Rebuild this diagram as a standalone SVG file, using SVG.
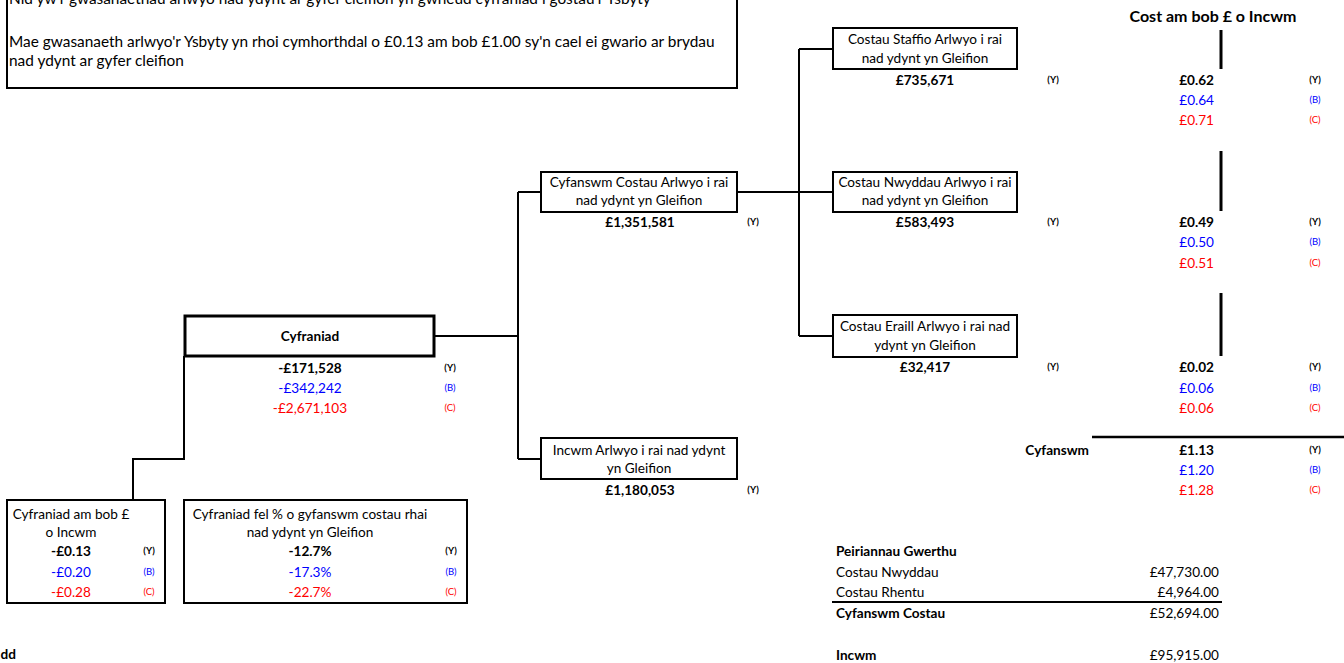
<svg xmlns="http://www.w3.org/2000/svg" width="1344" height="663" viewBox="0 0 1344 663">
<style>
text{font-family:Lato,"Liberation Sans",sans-serif;font-size:13.6px;fill:#000}
.b{font-weight:bold}
.m{text-anchor:middle}
.e{text-anchor:end}
.bl{fill:#0000ff}
.rd{fill:#ff0000}
.s{font-size:9.5px}
.n{font-size:15.4px}
.h{font-size:16px}
.box{fill:#fff;stroke:#000;stroke-width:2}
.con{fill:none;stroke:#000;stroke-width:2}
.bar{stroke:#000;stroke-width:3}
</style>
<rect width="1344" height="663" fill="#fff"/>

<g id="connectors">
<path class="con" d="M434,336 H518 M518,192 V459 M518,192 H541 M518,459 H541"/>
<path class="con" d="M737,192 H833 M799,49 V336 M799,49 H833 M799,336 H833"/>
<path class="con" d="M184,356 V459 H133 V500"/>
</g>

<g id="note">
<rect class="box" x="7" y="-10" width="730" height="98"/>
<text class="n" x="9" y="4">Nid yw'r gwasanaethau arlwyo nad ydynt ar gyfer cleifion yn gwneud cyfraniad i gostau'r Ysbyty</text>
<text class="n" x="9" y="47">Mae gwasanaeth arlwyo'r Ysbyty yn rhoi cymhorthdal o £0.13 am bob £1.00 sy'n cael ei gwario ar brydau</text>
<text class="n" x="9" y="66">nad ydynt ar gyfer cleifion</text>
</g>

<g id="cost-header">
<text class="b m h" x="1213" y="22">Cost am bob £ o Incwm</text>
<line class="bar" x1="1221" y1="30" x2="1221" y2="69"/>
<line class="bar" x1="1221" y1="151" x2="1221" y2="211"/>
<line class="bar" x1="1221" y1="293" x2="1221" y2="356"/>
</g>

<g id="cyfraniad">
<rect class="box" x="185" y="316" width="249" height="40" style="stroke-width:3"/>
<text class="b m" x="310" y="341">Cyfraniad</text>
<text class="b m" x="310" y="373">-£171,528</text>
<text class="m bl" x="310" y="393">-£342,242</text>
<text class="m rd" x="310" y="413">-£2,671,103</text>
<text class="s b m" x="450" y="371">(Y)</text>
<text class="s m bl" x="450" y="391">(B)</text>
<text class="s m rd" x="450" y="411">(C)</text>
</g>

<g id="cyfanswm-costau">
<rect class="box" x="541" y="172" width="196" height="40"/>
<text class="m" x="639" y="187">Cyfanswm Costau Arlwyo i rai</text>
<text class="m" x="639" y="205">nad ydynt yn Gleifion</text>
<text class="b m" x="640" y="227">£1,351,581</text>
<text class="s b m" x="753" y="225">(Y)</text>
</g>

<g id="incwm">
<rect class="box" x="541" y="438" width="196" height="41"/>
<text class="m" x="639" y="455">Incwm Arlwyo i rai nad ydynt</text>
<text class="m" x="639" y="473">yn Gleifion</text>
<text class="b m" x="640" y="495">£1,180,053</text>
<text class="s b m" x="753" y="493">(Y)</text>
</g>

<g id="staffio">
<rect class="box" x="833" y="28" width="184" height="41"/>
<text class="m" x="925" y="44">Costau Staffio Arlwyo i rai</text>
<text class="m" x="925" y="63">nad ydynt yn Gleifion</text>
<text class="b m" x="925" y="85">£735,671</text>
<text class="s b m" x="1053" y="83">(Y)</text>
<text class="b e" x="1214" y="85">£0.62</text>
<text class="e bl" x="1214" y="105">£0.64</text>
<text class="e rd" x="1214" y="125">£0.71</text>
<text class="s b m" x="1315" y="83">(Y)</text>
<text class="s m bl" x="1315" y="103">(B)</text>
<text class="s m rd" x="1315" y="123">(C)</text>
</g>

<g id="nwyddau">
<rect class="box" x="833" y="172" width="184" height="40"/>
<text class="m" x="925" y="187">Costau Nwyddau Arlwyo i rai</text>
<text class="m" x="925" y="205">nad ydynt yn Gleifion</text>
<text class="b m" x="925" y="227">£583,493</text>
<text class="s b m" x="1053" y="225">(Y)</text>
<text class="b e" x="1214" y="227">£0.49</text>
<text class="e bl" x="1214" y="247">£0.50</text>
<text class="e rd" x="1214" y="268">£0.51</text>
<text class="s b m" x="1315" y="225">(Y)</text>
<text class="s m bl" x="1315" y="245">(B)</text>
<text class="s m rd" x="1315" y="266">(C)</text>
</g>

<g id="eraill">
<rect class="box" x="833" y="315" width="184" height="42"/>
<text class="m" x="925" y="331">Costau Eraill Arlwyo i rai nad</text>
<text class="m" x="925" y="350">ydynt yn Gleifion</text>
<text class="b m" x="925" y="372">£32,417</text>
<text class="s b m" x="1053" y="370">(Y)</text>
<text class="b e" x="1214" y="372">£0.02</text>
<text class="e bl" x="1214" y="393">£0.06</text>
<text class="e rd" x="1214" y="413">£0.06</text>
<text class="s b m" x="1315" y="370">(Y)</text>
<text class="s m bl" x="1315" y="391">(B)</text>
<text class="s m rd" x="1315" y="411">(C)</text>
</g>

<g id="cyfanswm-cost">
<line x1="1092" y1="437" x2="1344" y2="437" stroke="#000" stroke-width="2.5"/>
<text class="b e" x="1089" y="455">Cyfanswm</text>
<text class="b e" x="1214" y="455">£1.13</text>
<text class="e bl" x="1214" y="475">£1.20</text>
<text class="e rd" x="1214" y="495">£1.28</text>
<text class="s b m" x="1315" y="453">(Y)</text>
<text class="s m bl" x="1315" y="473">(B)</text>
<text class="s m rd" x="1315" y="493">(C)</text>
</g>

<g id="cyfraniad-am-bob">
<rect class="box" x="7" y="500" width="158" height="103"/>
<text class="m" x="71" y="519">Cyfraniad am bob £</text>
<text class="m" x="71" y="537">o Incwm</text>
<text class="b m" x="71" y="556">-£0.13</text>
<text class="m bl" x="71" y="577">-£0.20</text>
<text class="m rd" x="71" y="597">-£0.28</text>
<text class="s b m" x="149" y="554">(Y)</text>
<text class="s m bl" x="149" y="575">(B)</text>
<text class="s m rd" x="149" y="595">(C)</text>
</g>

<g id="cyfraniad-canran">
<rect class="box" x="184" y="500" width="283" height="103"/>
<text class="m" x="310" y="519">Cyfraniad fel % o gyfanswm costau rhai</text>
<text class="m" x="310" y="537">nad ydynt yn Gleifion</text>
<text class="b m" x="310" y="556">-12.7%</text>
<text class="m bl" x="310" y="577">-17.3%</text>
<text class="m rd" x="310" y="597">-22.7%</text>
<text class="s b m" x="451" y="554">(Y)</text>
<text class="s m bl" x="451" y="575">(B)</text>
<text class="s m rd" x="451" y="595">(C)</text>
</g>

<g id="peiriannau">
<text class="b" x="836" y="556">Peiriannau Gwerthu</text>
<text x="836" y="577">Costau Nwyddau</text>
<text class="e" x="1219" y="577">£47,730.00</text>
<text x="836" y="597">Costau Rhentu</text>
<text class="e" x="1219" y="597">£4,964.00</text>
<line x1="832" y1="602" x2="1222" y2="602" stroke="#000" stroke-width="2"/>
<text class="b" x="836" y="618">Cyfanswm Costau</text>
<text class="e" x="1219" y="618">£52,694.00</text>
<text class="b" x="836" y="660">Incwm</text>
<text class="e" x="1219" y="660">£95,915.00</text>
</g>

<text class="b e" x="16" y="659">dd</text>
</svg>
